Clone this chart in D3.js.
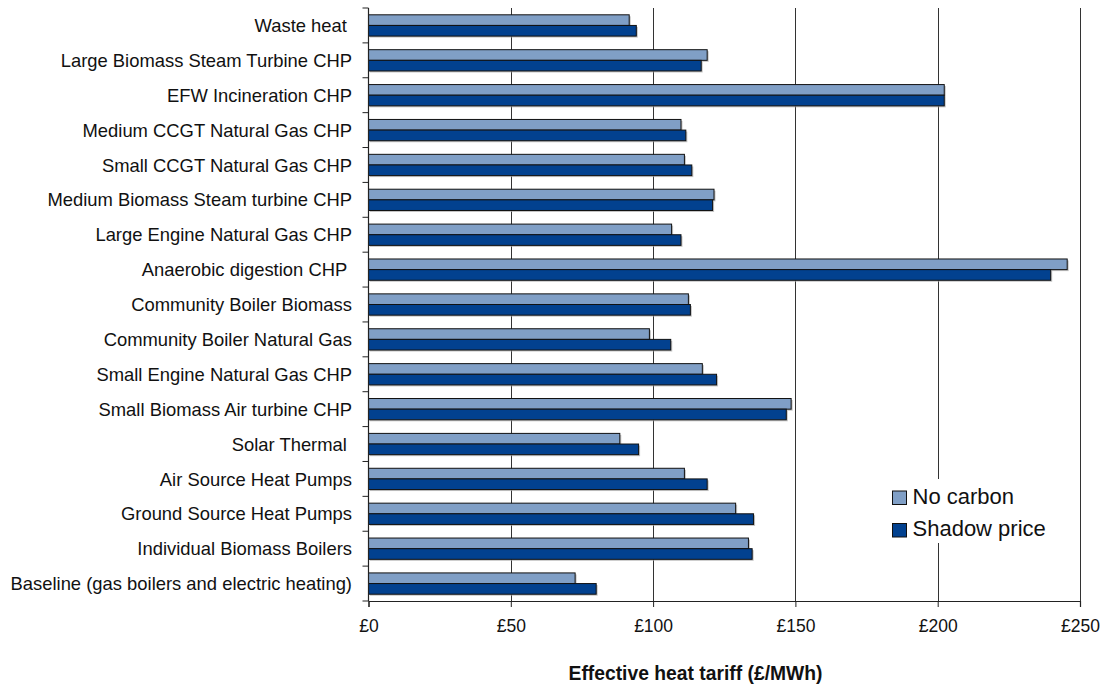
<!DOCTYPE html>
<html>
<head>
<meta charset="utf-8">
<script src="https://cdn.jsdelivr.net/npm/d3@7"></script>
<style>
  html, body { margin: 0; padding: 0; background: #fff; }
  svg { display: block; font-family: "Liberation Sans", Arial, sans-serif; }
  text { white-space: pre; }
</style>
</head>
<body>
<svg id="chart" width="1107" height="684"></svg>
<script>
const categories = [
  "Waste heat ",
  "Large Biomass Steam Turbine CHP",
  "EFW Incineration CHP",
  "Medium CCGT Natural Gas CHP",
  "Small CCGT Natural Gas CHP",
  "Medium Biomass Steam turbine CHP",
  "Large Engine Natural Gas CHP",
  "Anaerobic digestion CHP ",
  "Community Boiler Biomass",
  "Community Boiler Natural Gas",
  "Small Engine Natural Gas CHP",
  "Small Biomass Air turbine CHP",
  "Solar Thermal ",
  "Air Source Heat Pumps",
  "Ground Source Heat Pumps",
  "Individual Biomass Boilers",
  "Baseline (gas boilers and electric heating)"
];
const seriesNames = ["No carbon", "Shadow price"];
const noCarbon =    [91.6, 119.0, 202.3, 109.8, 111.0, 121.4, 106.5, 245.5, 112.4, 98.7, 117.3, 148.5, 88.3, 111.0, 129.0, 133.5, 72.6];
const shadowPrice = [94.1, 116.9, 202.3, 111.5, 113.6, 120.9, 109.8, 239.7, 113.1, 106.2, 122.3, 146.8, 94.9, 119.0, 135.3, 134.8, 80.0];
const xTicks = [0, 50, 100, 150, 200, 250];
const xTickLabels = ["£0", "£50", "£100", "£150", "£200", "£250"];
const xTitle = "Effective heat tariff (£/MWh)";
const colors = ["#809fc6", "#02418f"];

const svg = d3.select("#chart");
const pLeft = 368.5, pRight = 1080, pTop = 8, pBottom = 601;

const x = d3.scaleLinear().domain([0, 250]).range([pLeft, pRight]);
const y0 = d3.scaleBand().domain(categories).range([pTop, pBottom]).padding(0);
const y1 = d3.scaleBand().domain(seriesNames).range([0, y0.bandwidth()]).paddingInner(0).paddingOuter(0.64);
const series = [noCarbon, shadowPrice];

// gridlines
svg.append("g").selectAll("line").data(xTicks.slice(1)).join("line")
  .attr("x1", d => Math.round(x(d)) + 0.5).attr("x2", d => Math.round(x(d)) + 0.5)
  .attr("y1", pTop).attr("y2", pBottom)
  .attr("stroke", "#333").attr("stroke-width", 1);

// bars
const rows = svg.append("g").selectAll("g").data(categories).join("g")
  .attr("transform", c => `translate(0,${y0(c)})`);
series.forEach((vals, si) => {
  rows.append("rect")
    .attr("x", x(0) + 1.5)
    .attr("y", y1(seriesNames[si]) + 1.5)
    .attr("width", (c, i) => x(vals[i]) - x(0))
    .attr("height", y1.bandwidth())
    .attr("fill", "#aaa").attr("opacity", 0.7);
});
series.forEach((vals, si) => {
  rows.append("rect")
    .attr("x", x(0))
    .attr("y", y1(seriesNames[si]))
    .attr("width", (c, i) => x(vals[i]) - x(0))
    .attr("height", y1.bandwidth())
    .attr("fill", colors[si])
    .attr("stroke", "#111").attr("stroke-width", 1);
});

// y axis
const yAxis = svg.append("g");
yAxis.append("line").attr("x1", pLeft).attr("x2", pLeft).attr("y1", pTop).attr("y2", pBottom)
  .attr("stroke", "#222").attr("stroke-width", 1.2);
const boundaries = categories.map(c => y0(c)).concat([pBottom]);
yAxis.selectAll("line.tick").data(boundaries).join("line").attr("class", "tick")
  .attr("x1", pLeft - 6).attr("x2", pLeft).attr("y1", d => d).attr("y2", d => d)
  .attr("stroke", "#222").attr("stroke-width", 1);
yAxis.selectAll("text").data(categories).join("text")
  .attr("x", pLeft - 16.5)
  .attr("y", c => y0(c) + y0.bandwidth() / 2)
  .attr("dy", "0.36em")
  .attr("text-anchor", "end")
  .attr("font-size", 18.4)
  .attr("fill", "#111")
  .text(c => c);

// x axis
const xAxis = svg.append("g").attr("transform", `translate(0,${pBottom})`)
  .call(d3.axisBottom(x).tickValues(xTicks).tickFormat((d, i) => xTickLabels[i]).tickSize(6).tickPadding(13));
xAxis.select(".domain").attr("stroke", "#222").attr("stroke-width", 1.2);
xAxis.selectAll(".tick line").attr("stroke", "#222");
xAxis.selectAll(".tick text").attr("font-size", 17.5).attr("fill", "#111")
  .attr("font-family", "Liberation Sans, Arial, sans-serif");

svg.append("text").attr("x", 695.5).attr("y", 680)
  .attr("text-anchor", "middle").attr("font-size", 19.3).attr("font-weight", "bold")
  .attr("fill", "#111").text(xTitle);

// legend
const lg = svg.append("g");
lg.append("rect").attr("x", 887).attr("y", 479).attr("width", 170).attr("height", 64).attr("fill", "#fff");
seriesNames.forEach((name, i) => {
  const yy = 491 + i * 32.5;
  lg.append("rect").attr("x", 892.5).attr("y", yy).attr("width", 14).attr("height", 13.5)
    .attr("fill", colors[i]).attr("stroke", "#111").attr("stroke-width", 1);
  lg.append("text").attr("x", 912.5).attr("y", yy + 12.5)
    .attr("font-size", 22).attr("fill", "#111").text(name);
});
</script>
</body>
</html>
